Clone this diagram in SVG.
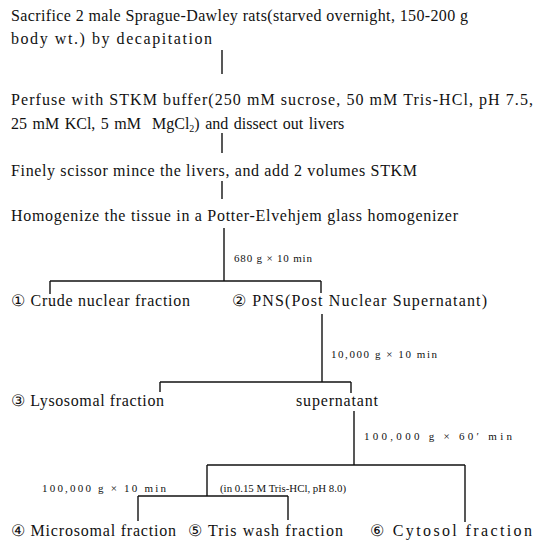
<svg xmlns="http://www.w3.org/2000/svg" width="537" height="548" viewBox="0 0 537 548">
<style>
text{font-family:"Liberation Serif","DejaVu Serif",serif;fill:#111}
.t{font-size:16px}
.s{font-size:11px}
.c line{stroke:#111;stroke-width:1.4}
</style>
<rect width="537" height="548" fill="#fff"/>
<g id="n1"><text class="t" x="11" y="21" textLength="457" lengthAdjust="spacing">Sacrifice 2 male Sprague-Dawley rats(starved overnight, 150-200 g</text><text class="t" x="11" y="44" textLength="201" lengthAdjust="spacing">body wt.) by decapitation</text></g>
<g id="n2"><text class="t" x="11" y="105" textLength="522" lengthAdjust="spacing">Perfuse with STKM buffer(250 mM sucrose, 50 mM Tris-HCl, pH 7.5,</text><text class="t" x="11" y="129" word-spacing="1.5" style="white-space:pre">25 mM KCl, 5 mM  MgCl<tspan font-size="10" dy="3">2</tspan><tspan dy="-3">) and dissect out livers</tspan></text></g>
<g id="n3"><text class="t" x="11" y="176" textLength="406" lengthAdjust="spacing">Finely scissor mince the livers, and add 2 volumes STKM</text></g>
<g id="n4"><text class="t" x="11" y="221" textLength="447" lengthAdjust="spacing">Homogenize the tissue in a Potter-Elvehjem glass homogenizer</text></g>
<g id="n5"><text class="t" x="11" y="306" textLength="179" lengthAdjust="spacing">① Crude nuclear fraction</text></g>
<g id="n6"><text class="t" x="232" y="306" textLength="255" lengthAdjust="spacing">② PNS(Post Nuclear Supernatant)</text></g>
<g id="n7"><text class="t" x="11" y="406" textLength="153" lengthAdjust="spacing">③ Lysosomal fraction</text></g>
<g id="n8"><text class="t" x="296" y="406" textLength="82" lengthAdjust="spacing">supernatant</text></g>
<g id="n9"><text class="t" x="11" y="536" textLength="165" lengthAdjust="spacing">④ Microsomal fraction</text></g>
<g id="n10"><text class="t" x="188" y="536" textLength="155" lengthAdjust="spacing">⑤ Tris wash fraction</text></g>
<g id="n11"><text class="t" x="370" y="536" textLength="162" lengthAdjust="spacing">⑥ Cytosol fraction</text></g>
<g id="labels">
<text class="s" x="234" y="262" textLength="78" lengthAdjust="spacing">680 g × 10 min</text>
<text class="s" x="331" y="358" textLength="106" lengthAdjust="spacing">10,000 g × 10 min</text>
<text class="s" x="364" y="440" textLength="148" lengthAdjust="spacing">100,000 g × 60′ min</text>
<text class="s" x="42" y="492" textLength="124" lengthAdjust="spacing">100,000 g × 10 min</text>
<text class="s" x="220" y="492" font-size="10" textLength="126" lengthAdjust="spacingAndGlyphs">(in 0.15 M Tris-HCl, pH 8.0)</text>
</g>
<g id="connectors" class="c">
<line x1="222" y1="50" x2="222" y2="74"/>
<line x1="222" y1="133" x2="222" y2="153"/>
<line x1="222" y1="181" x2="222" y2="199"/>
<line x1="224" y1="228" x2="224" y2="281"/>
<line x1="50" y1="281" x2="321" y2="281"/>
<line x1="50" y1="281" x2="50" y2="294"/>
<line x1="321" y1="281" x2="321" y2="293"/>
<line x1="322" y1="314" x2="322" y2="382"/>
<line x1="160" y1="382" x2="351" y2="382"/>
<line x1="160" y1="382" x2="160" y2="392"/>
<line x1="351" y1="382" x2="351" y2="393"/>
<line x1="354" y1="411" x2="354" y2="465"/>
<line x1="207" y1="465" x2="465" y2="465"/>
<line x1="465" y1="465" x2="465" y2="522"/>
<line x1="207" y1="465" x2="207" y2="496"/>
<line x1="138" y1="496" x2="288" y2="496"/>
<line x1="138" y1="496" x2="138" y2="521"/>
<line x1="288" y1="496" x2="288" y2="520"/>
</g>
</svg>
